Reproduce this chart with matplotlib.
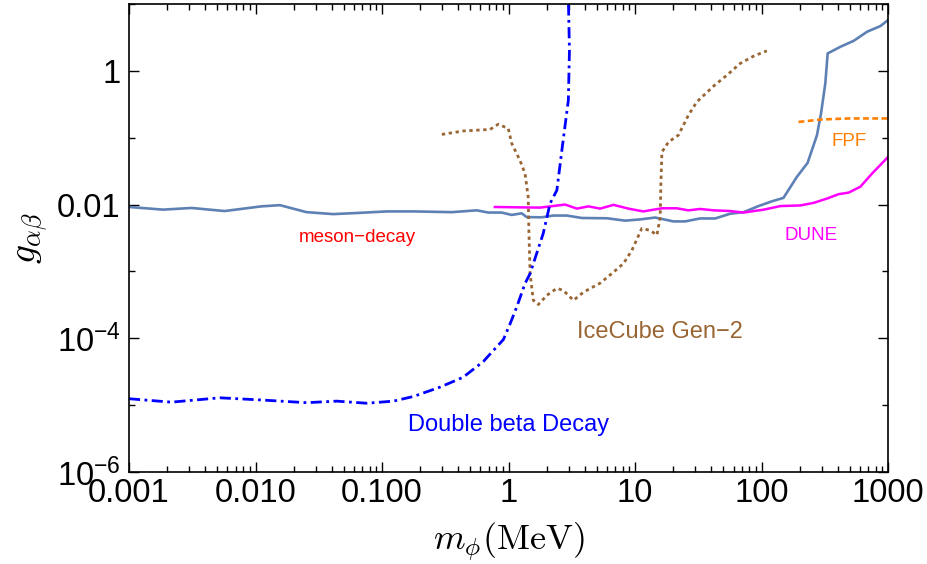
import numpy as np
import matplotlib
matplotlib.use("Agg")
import matplotlib.pyplot as plt
from matplotlib.ticker import FixedLocator, FixedFormatter

plt.rcParams["font.family"] = ["Liberation Sans", "DejaVu Sans"]
plt.rcParams["mathtext.fontset"] = "custom"
plt.rcParams["mathtext.rm"] = "Liberation Sans"
plt.rcParams["mathtext.it"] = "Liberation Sans:italic"

# Limites en m_phi (MeV) -> g_alpha_beta
meson_x = [0.001, 0.00186, 0.00312, 0.0057, 0.0111, 0.0156, 0.0253, 0.0411, 0.0649,
           0.109, 0.182, 0.356, 0.56, 0.69, 0.88, 1.06, 1.27, 1.39, 1.83, 2.26, 2.89,
           3.8, 6.0, 8.35, 11.0, 14.4, 20.1, 24.9, 32.7, 43.0, 56.5, 72.1, 94.6, 121,
           149, 190, 231, 274, 295, 319, 333, 420, 535, 682, 869, 1000]
meson_y = [9.2e-3, 8.4e-3, 8.9e-3, 8.0e-3, 9.4e-3, 9.8e-3, 7.7e-3, 7.2e-3, 7.5e-3,
           7.9e-3, 7.9e-3, 7.7e-3, 8.2e-3, 7.6e-3, 7.6e-3, 7.0e-3, 7.4e-3, 6.5e-3,
           6.45e-3, 6.85e-3, 6.85e-3, 6.3e-3, 6.24e-3, 5.75e-3, 6.0e-3, 6.4e-3, 5.6e-3,
           5.6e-3, 6.2e-3, 6.2e-3, 7.3e-3, 7.7e-3, 9.5e-3, 0.0112, 0.0126, 0.0259,
           0.042, 0.109, 0.23, 0.65, 1.82, 2.29, 2.81, 3.84, 4.67, 5.74]

dune_x = [0.78, 1.77, 2.80, 3.47, 4.28, 5.30, 6.75, 8.87, 11.6, 16.3, 21.4, 26.4,
          32.7, 41.7, 56.5, 72.1, 104, 141, 202, 258, 329, 406, 488, 604, 747, 1000]
dune_y = [9.2e-3, 9.0e-3, 1.0e-2, 8.7e-3, 9.4e-3, 8.7e-3, 9.9e-3, 8.7e-3, 7.9e-3,
          8.8e-3, 8.8e-3, 8.2e-3, 8.6e-3, 8.2e-3, 8.0e-3, 7.6e-3, 8.4e-3, 9.5e-3,
          9.7e-3, 0.0106, 0.0123, 0.0143, 0.0151, 0.0185, 0.0291, 0.0516]

fpf_x = [196, 295, 488, 1000]
fpf_y = [0.172, 0.187, 0.194, 0.194]

ice_x = [0.297, 0.438, 0.715, 0.830, 0.995, 1.06, 1.23, 1.35, 1.43, 1.45, 1.48, 1.57,
         1.72, 2.01, 2.41, 2.71, 3.26, 3.91, 5.30, 6.55, 8.09, 9.44, 11.3, 13.2, 14.9,
         15.8, 16.0, 16.3, 18.4, 22.0, 26.4, 30.8, 41.7, 53.2, 67.8, 86.5, 110]
ice_y = [0.112, 0.126, 0.133, 0.159, 0.137, 0.082, 0.046, 0.029, 0.013, 3.7e-3, 9.3e-4,
         3.7e-4, 3.2e-4, 4.4e-4, 5.6e-4, 5.2e-4, 3.7e-4, 4.9e-4, 6.7e-4, 9.3e-4,
         1.31e-3, 2.07e-3, 4.4e-3, 4.1e-3, 3.5e-3, 6.5e-3, 0.0206, 0.061, 0.0865,
         0.109, 0.217, 0.344, 0.59, 0.86, 1.29, 1.66, 1.99]

dbd_x = [0.001, 0.00216, 0.00522, 0.0108, 0.0253, 0.0438, 0.0755, 0.123, 0.177, 0.287,
         0.438, 0.632, 0.911, 1.03, 1.16, 1.35, 1.48, 1.88, 2.13, 2.41, 2.64, 2.97,
         3.03, 2.97]
dbd_y = [1.25e-5, 1.11e-5, 1.29e-5, 1.20e-5, 1.09e-5, 1.15e-5, 1.07e-5, 1.15e-5,
         1.35e-5, 1.86e-5, 2.62e-5, 4.5e-5, 9.6e-5, 1.66e-4, 2.93e-4, 6.6e-4, 9.3e-4,
         3.7e-3, 0.0104, 0.0164, 0.065, 0.364, 2.04, 12]

x_ticks = [0.001, 0.01, 0.1, 1, 10, 100, 1000]
x_ticklabels = ["0.001", "0.010", "0.100", "1", "10", "100", "1000"]
y_ticks = [1e-6, 1e-4, 1e-2, 1]
y_ticklabels = [r"$10^{-6}$", r"$10^{-4}$", "0.01", "1"]
y_minor = [1e-5, 1e-3, 1e-1, 10]

fig = plt.figure(figsize=(9.28, 5.64), dpi=100)
ax = fig.add_axes([0.139, 0.163, 0.818, 0.830])

ax.plot(meson_x, meson_y, color="#5E81B5", lw=1.9)
ax.plot(dune_x, dune_y, color="#FF00FF", lw=1.8)
ax.plot(fpf_x, fpf_y, color="#FF8000", lw=1.9, dashes=(2.2, 1.3))
ax.plot(ice_x, ice_y, color="#996633", lw=2.0, dashes=(1.2, 1.3))
ax.plot(dbd_x, dbd_y, color="#0000FF", lw=2.0, dashes=(4, 1.6, 1, 1.6))

ax.set_xscale("log")
ax.set_yscale("log")
ax.set_xlim(0.001, 1000)
ax.set_ylim(1e-6, 10)

ax.xaxis.set_major_locator(FixedLocator(x_ticks))
ax.xaxis.set_major_formatter(FixedFormatter(x_ticklabels))
ax.yaxis.set_major_locator(FixedLocator(y_ticks))
ax.yaxis.set_major_formatter(FixedFormatter(y_ticklabels))
ax.yaxis.set_minor_locator(FixedLocator(y_minor))
ax.yaxis.set_minor_formatter(FixedFormatter([]))

ax.tick_params(which="both", direction="in", top=True, right=True, width=1.0)
ax.tick_params(which="major", length=7, labelsize=23.5)
ax.tick_params(which="minor", length=4)
ax.tick_params(axis="x", which="major", pad=4)
ax.tick_params(axis="y", which="major", pad=6)
for s in ax.spines.values():
    s.set_linewidth(1.2)

ax.set_xlabel(r"$m_\phi(\mathrm{MeV})$", fontsize=26, math_fontfamily="cm", labelpad=9)
ax.set_ylabel(r"$g_{\alpha\beta}$", fontsize=27, math_fontfamily="cm", labelpad=5)

ax.text(0.0633, 3.24e-3, "meson\u2212decay", color="#FF0000", fontsize=13.5,
        ha="center", va="center")
ax.text(247, 3.46e-3, "DUNE", color="#FF00FF", fontsize=13.5, ha="center", va="center")
ax.text(493, 0.0887, "FPF", color="#FF8000", fontsize=13.5, ha="center", va="center")
ax.text(15.7, 1.24e-4, "IceCube Gen\u22122", color="#996633", fontsize=17,
        ha="center", va="center")
ax.text(1.0, 4.97e-6, "Double beta Decay", color="#0000FF", fontsize=17,
        ha="center", va="center")

fig.savefig("out.png", dpi=100)
